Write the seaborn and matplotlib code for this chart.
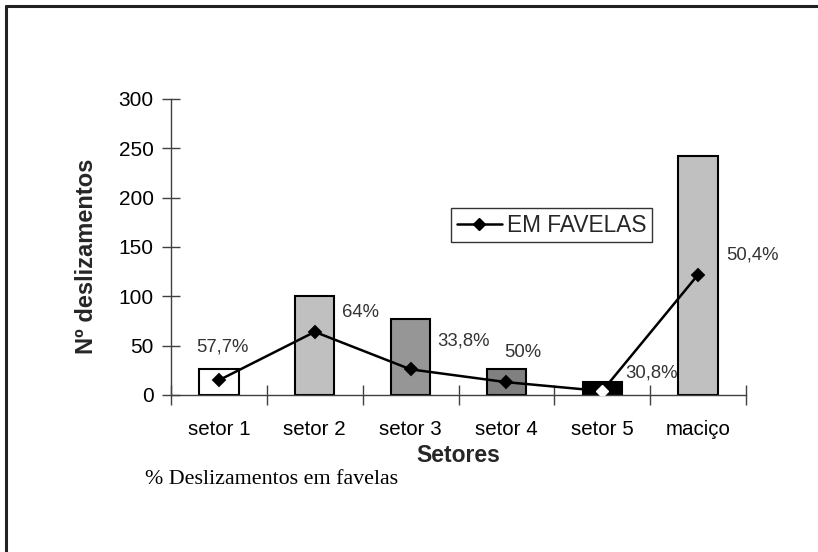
import matplotlib
matplotlib.use("Agg")
import matplotlib.pyplot as plt
import seaborn as sns
import pandas as pd
from matplotlib.lines import Line2D

# ---- data ----
setores = ["setor 1", "setor 2", "setor 3", "setor 4", "setor 5", "maciço"]
total_deslizamentos = [26, 100, 77, 26, 13, 242]
em_favelas = [15, 64, 26, 13, 4, 122]
pct_labels = ["57,7%", "64%", "33,8%", "50%", "30,8%", "50,4%"]

# ---- styles ----
bar_colors = ["#FFFFFF", "#C0C0C0", "#969696", "#808080", "#000000", "#C0C0C0"]
label_offsets_px = [(3, 33), (46, 19), (53, 28), (16, 30), (49, 18), (54, 20)]

sns.set_theme(style="white")
plt.rcParams["font.family"] = ["Liberation Sans", "DejaVu Sans"]

fig = plt.figure(figsize=(8.18, 5.52), dpi=100)
ax = fig.add_axes([171/818, 1-395/552, (746-171)/818, (395-99)/552])

df = pd.DataFrame({"setor": setores, "total": total_deslizamentos, "favelas": em_favelas})

sns.barplot(data=df, x="setor", y="total", hue="setor", palette=bar_colors,
            legend=False, width=0.41, edgecolor="black", linewidth=1.5,
            saturation=1, ax=ax)

sns.pointplot(data=df, x="setor", y="favelas", color="black", marker="D",
              markersize=6.5, linewidth=1.8, ax=ax)

# marker drawn over the black bar appears white in the reference
ax.plot([4], [em_favelas[4]], marker="D", color="white", markersize=6.5,
        linestyle="none", zorder=10)

for i, (lab, off) in enumerate(zip(pct_labels, label_offsets_px)):
    ax.annotate(lab, xy=(i, em_favelas[i]), xytext=off, textcoords="offset pixels",
                ha="center", va="center", fontsize=13.3, color="#333333")

ax.set_xlim(-0.5, 5.5)
ax.set_ylim(0, 300)
ax.set_yticks([0, 50, 100, 150, 200, 250, 300])
ax.tick_params(axis="y", which="major", direction="inout", length=13, width=1,
               color="#404040", labelsize=15, labelcolor="black", pad=6, left=True)
ax.set_xticks(range(len(setores)))
ax.set_xticklabels(setores)
ax.set_xticks([i - 0.5 for i in range(len(setores) + 1)], minor=True)
ax.tick_params(axis="x", which="major", length=0, labelsize=14.8, labelcolor="black", pad=18)
ax.tick_params(axis="x", which="minor", direction="inout", length=14, width=1,
               color="#404040", bottom=True)

for s in ["top", "right"]:
    ax.spines[s].set_visible(False)
for s in ["left", "bottom"]:
    ax.spines[s].set_visible(True)
    ax.spines[s].set_color("#404040")
    ax.spines[s].set_linewidth(1)

ax.set_xlabel("Setores", fontsize=16.5, fontweight="bold")
ax.xaxis.set_label_coords(0.5, -(456-395)/296)
ax.xaxis.label.set_va("center")
ax.set_ylabel("Nº deslizamentos", fontsize=17, fontweight="bold")
ax.yaxis.set_label_coords((98-171)/575, 0.47)

handle = Line2D([], [], color="black", marker="D", markersize=6.5, linewidth=1.8)
leg = ax.legend([handle], ["EM FAVELAS"], loc="center",
                bbox_to_anchor=((551.5-171)/575, (395-225)/296),
                frameon=True, fancybox=False, fontsize=16.3, handlelength=2.0,
                handletextpad=0.2, borderpad=0.25, borderaxespad=0, edgecolor="black")
leg.get_frame().set_linewidth(1)

fig.text(145/818, 1-480/552, "% Deslizamentos em favelas",
         family=["Liberation Serif", "DejaVu Serif"],
         fontsize=15.8, ha="left", va="center", color="black")

# outer frame (left and top edges visible)
fig.add_artist(Line2D([6/818, 6/818], [0, 1-6/552], color="#222222", linewidth=2.2,
                      transform=fig.transFigure))
fig.add_artist(Line2D([6/818, 1], [1-6/552, 1-6/552], color="#222222", linewidth=2.2,
                      transform=fig.transFigure))

fig.savefig("out.png", dpi=100)
